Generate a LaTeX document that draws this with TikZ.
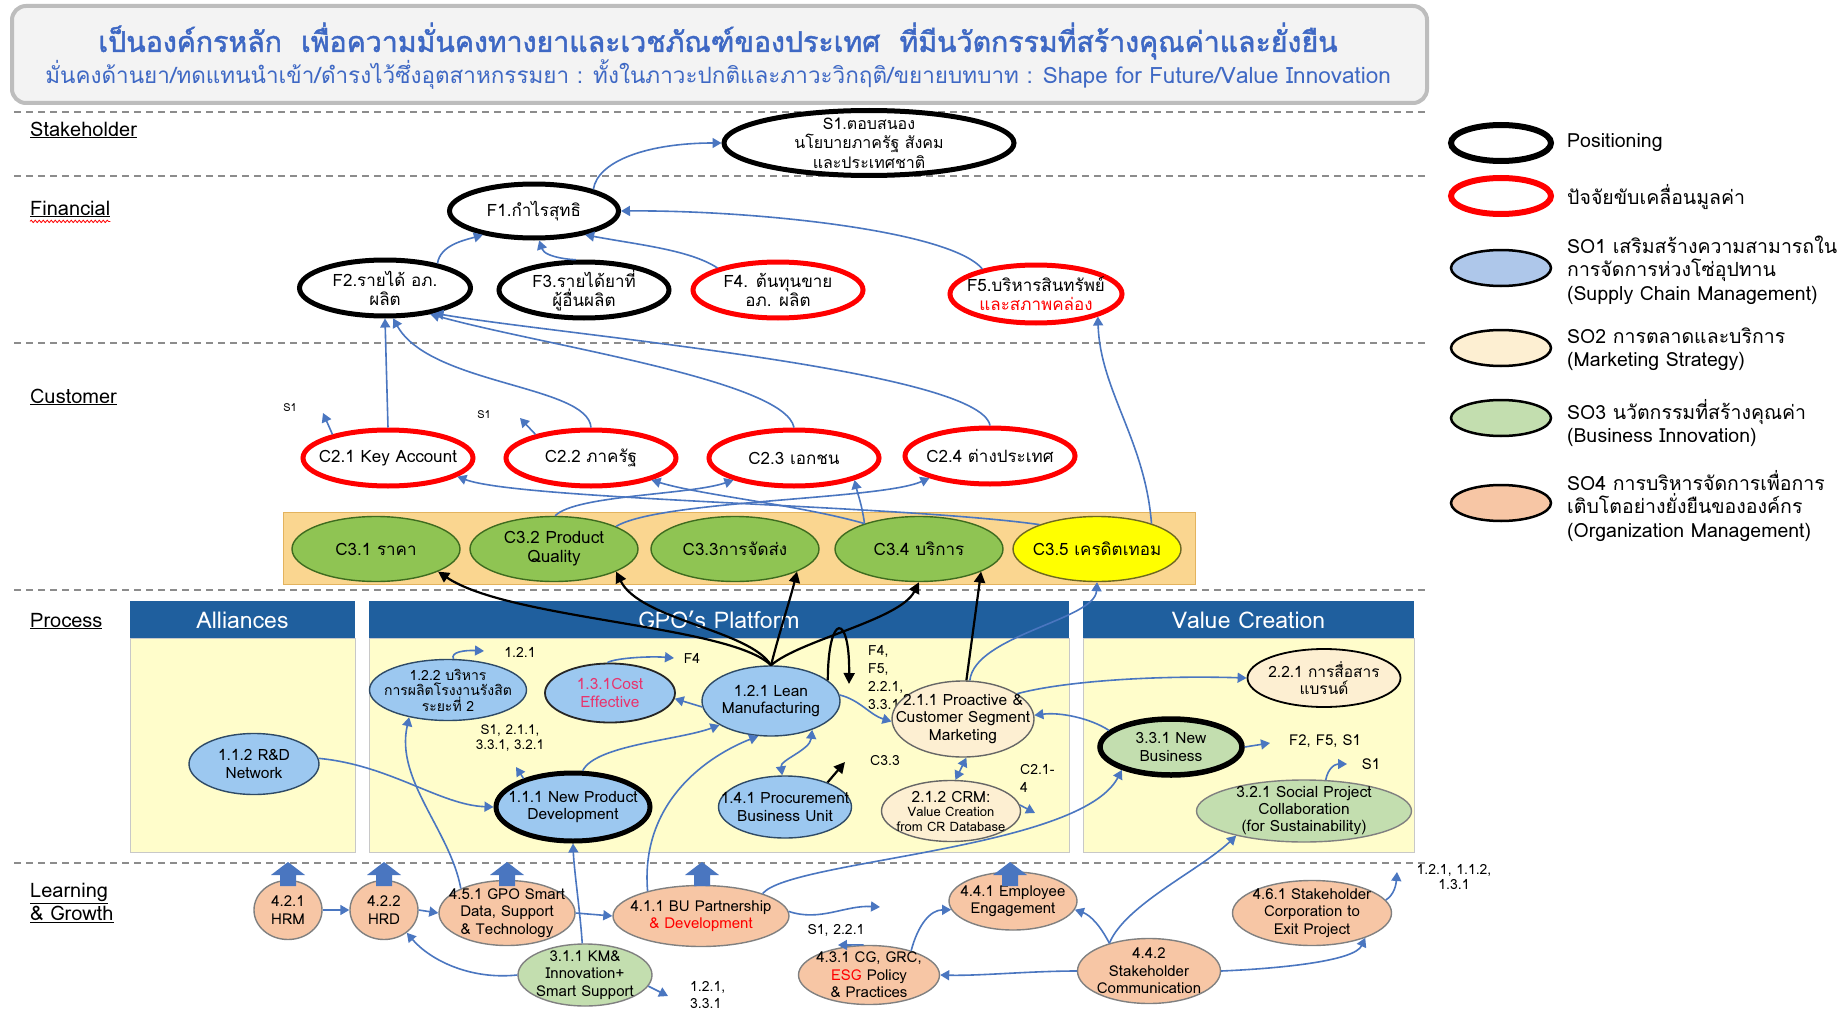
\documentclass[tikz,border=0pt]{standalone}
\usepackage{fontspec}
\setmainfont[Script=Thai]{Loma}
\newfontfamily\ttlfont[Script=Thai,FakeBold=1.6]{Loma}
\usetikzlibrary{shapes.geometric,arrows.meta,decorations.pathmorphing}
\definecolor{ttl}{HTML}{3E68C4}
\definecolor{hdrbg}{HTML}{F3F3F3}
\definecolor{hdrbd}{HTML}{BDBDBD}
\definecolor{dashc}{HTML}{8C8C8C}
\definecolor{band}{HTML}{FAD690}
\definecolor{bandbd}{HTML}{E3B35E}
\definecolor{barb}{HTML}{1F5F9E}
\definecolor{bodyc}{HTML}{FFFDCB}
\definecolor{bodybd}{HTML}{C8C8C8}
\definecolor{arr}{HTML}{4A76C0}
\definecolor{rd}{HTML}{FF0000}
\definecolor{bluef}{HTML}{9CC8F0}
\definecolor{bluel}{HTML}{AEC7EA}
\definecolor{beige}{HTML}{FDEFD2}
\definecolor{greenl}{HTML}{C3DEAF}
\definecolor{orng}{HTML}{F7C6A5}
\definecolor{cthree}{HTML}{8FC453}
\definecolor{cthreed}{HTML}{3E6B1F}
\definecolor{yel}{HTML}{FFFF00}
\definecolor{pinkred}{HTML}{E8336D}
\definecolor{ndb}{HTML}{2E4A66}
\newcommand\ellnode[8][]{%
  \node[#3,minimum width=#6pt,minimum height=#7pt] (#2) at (#4,#5) {};%
  \node[tx,#1] (#2t) at (#2.center) {#8};}
\tikzset{
  ebase/.style={ellipse,inner sep=0pt,draw},
  posn/.style={ebase,draw=black,line width=5pt,fill=white},
  drv/.style={ebase,draw=rd,line width=5pt,fill=white},
  sob/.style={ebase,fill=bluef,draw=ndb,line width=1.4pt},
  sobk/.style={sob,draw=black,line width=5pt},
  sobc/.style={sob,draw=black!85,line width=1.8pt},
  sbe/.style={ebase,fill=beige,draw=black!60,line width=1.4pt},
  sbek/.style={sbe,draw=black,line width=1.8pt},
  sgr/.style={ebase,fill=greenl,draw=black!50,line width=1.4pt},
  sgrk/.style={sgr,draw=black,line width=5.5pt},
  sor/.style={ebase,fill=orng,draw=black!50,line width=1.4pt},
  cthr/.style={ebase,fill=cthree,draw=cthreed,line width=1.4pt},
  cthy/.style={ebase,fill=yel,draw=olive!70!black,line width=1.4pt},
  tx/.style={align=center,inner sep=0pt,font=\fontsize{15.5}{17.5}\selectfont},
  ba/.style={draw=arr,line width=1.6pt,-{Triangle[width=10pt,length=9pt]}},
  bd/.style={draw=arr,line width=1.6pt,{Triangle[width=10pt,length=9pt]}-{Triangle[width=10pt,length=9pt]}},
  ka/.style={draw=black,line width=2.2pt,-{Triangle[width=11pt,length=11pt]}},
  lbl/.style={inner sep=0pt,align=center,font=\fontsize{14}{15.5}\selectfont},
  rowl/.style={anchor=west,inner sep=0pt,align=left,font=\fontsize{20}{23}\selectfont},
  leg/.style={anchor=west,inner sep=0pt,align=left,font=\fontsize{19.5}{23.5}\selectfont},
  hdr/.style={inner sep=0pt,text=white,font=\fontsize{23}{26}\selectfont},
  dline/.style={draw=dashc,line width=1.3pt,dash pattern=on 7pt off 5pt},
}
\begin{document}
\begin{tikzpicture}[x=1pt,y=1pt]
\useasboundingbox (0,0) rectangle (1842,-1014);
\fill[white] (0,0) rectangle (1842,-1014);
% title box
\draw[draw=hdrbd,fill=hdrbg,line width=4pt,rounded corners=14pt] (12,-6) rectangle (1427,-103);
\node[inner sep=0pt,text=ttl,font=\ttlfont\fontsize{28.5}{31}\selectfont] (title1) at (718,-41)
  {เป็นองค์กรหลัก\ \ เพื่อความมั่นคงทางยาและเวชภัณฑ์ของประเทศ\ \ ที่มีนวัตกรรมที่สร้างคุณค่าและยั่งยืน};
\node[inner sep=0pt,text=ttl,font=\fontsize{22.5}{25}\selectfont] (title2) at (718,-75)
  {มั่นคงด้านยา/ทดแทนนำเข้า/ดำรงไว้ซึ่งอุตสาหกรรมยา : ทั้งในภาวะปกติและภาวะวิกฤติ/ขยายบทบาท : Shape for Future/Value Innovation};
% dashed separators
\foreach \yy in {112,176,343,590,863} \draw[dline] (14,-\yy) -- (1427,-\yy);
% row labels
\node[rowl] (rS) at (30,-130) {\underline{Stakeholder}};
\node[rowl] (rF) at (30,-209) {\underline{Financial}};
\draw[rd,line width=0.8pt,decorate,decoration={snake,amplitude=1.2pt,segment length=4pt}] ([yshift=-4pt]rF.south west) -- ([yshift=-4pt]rF.south east);
\node[rowl] (rC) at (30,-397) {\underline{Customer}};
\node[rowl] (rP) at (30,-621) {\underline{Process}};
\node[rowl] (rL) at (30,-903) {\underline{Learning}\\\underline{\&\ Growth}};
% C3 band
\draw[fill=band,draw=bandbd,line width=1pt] (283,-512) rectangle (1195,-584);
% process boxes
\draw[fill=bodyc,draw=bodybd,line width=1pt] (130,-638) rectangle (355,-852);
\draw[fill=bodyc,draw=bodybd,line width=1pt] (369,-638) rectangle (1069,-852);
\draw[fill=bodyc,draw=bodybd,line width=1pt] (1083,-638) rectangle (1414,-852);
\fill[barb] (130,-601) rectangle (355,-638);
\fill[barb] (369,-601) rectangle (1069,-638);
\fill[barb] (1083,-601) rectangle (1414,-638);
\node[hdr] (hA) at (242.5,-620) {Alliances};
\node[hdr] (hG) at (719,-620) {GPO's Platform};
\node[hdr] (hV) at (1248.5,-620) {Value Creation};
% small labels (behind nodes)
\node[lbl,font=\fontsize{11}{12}\selectfont] (ls1a) at (290,-408) {S1};
\node[lbl,font=\fontsize{11}{12}\selectfont] (ls1b) at (484,-415) {S1};
\node[lbl] (lb121) at (520,-652) {1.2.1};
\node[lbl] (lbf4) at (692,-658) {F4};
\node[lbl,font=\fontsize{13.5}{15.5}\selectfont] (lbs1) at (510,-738) {S1, 2.1.1,\\3.3.1, 3.2.1};
\node[lbl,anchor=north west,align=left,font=\fontsize{14}{18}\selectfont] (lbf45) at (868,-645) {F4,\\F5,\\2.2.1,\\3.3.1};
\node[lbl] (lbc33) at (885,-761) {C3.3};
\node[lbl,anchor=north west,align=left,font=\fontsize{14}{18}\selectfont] (lbc21) at (1020,-764) {C2.1-\\4};
\node[lbl,anchor=west,font=\fontsize{15}{17}\selectfont] (lbf2) at (1289,-741) {F2, F5, S1};
\node[lbl,font=\fontsize{15}{17}\selectfont] (lbs1c) at (1371,-764) {S1};
\node[lbl] (lb461) at (1454,-877) {1.2.1, 1.1.2,\\1.3.1};
\node[lbl] (lb411) at (836,-930) {S1, 2.2.1};
\node[lbl,anchor=west,align=left,font=\fontsize{14}{17}\selectfont] (lb311) at (690,-995) {1.2.1,\\3.3.1};
% stakeholder / financial
\begin{scope}[tx/.style={align=center,inner sep=0pt,font=\fontsize{17}{19}\selectfont}]
\ellnode[font=\fontsize{16}{19.5}\selectfont]{S1}{posn}{869}{-143}{290}{65}{S1.ตอบสนอง\\นโยบายภาครัฐ สังคม\\และประเทศชาติ}
\ellnode{F1}{posn}{534}{-211}{169}{54}{F1.กำไรสุทธิ}
\ellnode{F2}{posn}{385}{-288}{171}{56}{F2.รายได้ อภ.\\ผลิต}
\ellnode{F3}{posn}{584}{-290}{170}{56}{F3.รายได้ยาที่\\ผู้อื่นผลิต}
\ellnode{F4}{drv}{778}{-290}{170}{56}{F4. ต้นทุนขาย\\อภ. ผลิต}
\ellnode{F5}{drv}{1036}{-294}{172}{58}{F5.บริหารสินทรัพย์\\\textcolor{rd}{และสภาพคล่อง}}
\ellnode{C21}{drv}{388}{-458}{170}{56}{C2.1 Key Account}
\ellnode{C22}{drv}{591}{-458}{170}{56}{C2.2 ภาครัฐ}
\ellnode{C23}{drv}{794}{-458}{170}{56}{C2.3 เอกชน}
\ellnode{C24}{drv}{990}{-456}{170}{56}{C2.4 ต่างประเทศ}
\ellnode{C31}{cthr}{376}{-549}{168}{65}{C3.1 ราคา}
\ellnode{C32}{cthr}{554}{-549}{168}{65}{C3.2 Product\\Quality}
\ellnode{C33}{cthr}{735}{-549}{168}{65}{C3.3การจัดส่ง}
\ellnode{C34}{cthr}{919}{-549}{168}{65}{C3.4 บริการ}
\ellnode{C35}{cthy}{1097}{-549}{168}{65}{C3.5 เครดิตเทอม}
\end{scope}
% process nodes
\ellnode[font=\fontsize{14}{15.5}\selectfont]{n122}{sob}{448}{-690}{157}{61}{1.2.2 บริหาร\\การผลิตโรงงานรังสิต\\ระยะที่ 2}
\ellnode{n131}{sobc}{610}{-693}{130}{59}{\textcolor{pinkred}{1.3.1Cost}\\\textcolor{pinkred}{Effective}}
\ellnode{n121}{sob}{771}{-701}{138}{70}{1.2.1 Lean\\Manufacturing}
\ellnode{n112}{sob}{254}{-764}{130}{61}{1.1.2 R\&D\\Network}
\ellnode{n111}{sobk}{573}{-807}{154}{68}{1.1.1 New Product\\Development}
\ellnode{n141}{sob}{785}{-807}{133}{62}{1.4.1 Procurement\\Business Unit}
\ellnode{n211}{sbe}{963}{-719}{142}{76}{2.1.1 Proactive \&\\Customer Segment\\Marketing}
\ellnode[font=\fontsize{13}{14.5}\selectfont]{n212}{sbe}{951}{-811}{139}{61}{{\fontsize{15.5}{17}\selectfont 2.1.2 CRM:}\\Value Creation\\from CR Database}
\ellnode{n221}{sbek}{1324}{-678}{153}{58}{2.2.1 การสื่อสาร\\แบรนด์}
\ellnode{n331}{sgrk}{1171}{-747}{142}{56}{3.3.1 New\\Business}
\ellnode[font=\fontsize{15.5}{17}\selectfont]{n321}{sgr}{1304}{-811}{215}{62}{3.2.1 Social Project\\Collaboration\\(for Sustainability)}
% learning & growth
\begin{scope}[tx/.style={align=center,inner sep=0pt,font=\fontsize{15}{17.5}\selectfont}]
\ellnode{n421}{sor}{288}{-910}{68}{59}{4.2.1\\HRM}
\ellnode{n422}{sor}{384}{-910}{68}{59}{4.2.2\\HRD}
\ellnode{n451}{sor}{507}{-913}{136}{65}{4.5.1 GPO Smart\\Data, Support\\\& Technology}
\ellnode{n411}{sor}{701}{-916}{176}{61}{4.1.1 BU Partnership\\\textcolor{rd}{\& Development}}
\ellnode{n311}{sgr}{585}{-975}{134}{62}{3.1.1 KM\&\\Innovation+\\Smart Support}
\ellnode{n441}{sor}{1013}{-901}{128}{58}{4.4.1 Employee\\Engagement}
\ellnode{n431}{sor}{869}{-975}{141}{59}{4.3.1 CG, GRC,\\\textcolor{rd}{ESG} Policy\\\& Practices}
\ellnode{n442}{sor}{1149}{-971}{143}{65}{4.4.2\\Stakeholder\\Communication}
\ellnode{n461}{sor}{1312}{-913}{159}{65}{4.6.1 Stakeholder\\Corporation to\\Exit Project}
\end{scope}
% block arrows
\foreach \bx in {288,384,507,702,1010}
  \fill[arr] (\bx-8,-886) -- (\bx-8,-875) -- (\bx-17,-875) -- (\bx,-862) -- (\bx+17,-875) -- (\bx+8,-875) -- (\bx+8,-886) -- cycle;
% legend
\ellnode{L1}{posn,line width=6pt}{1501}{-143}{100}{36}{}
\ellnode{L2}{drv,line width=6pt}{1501}{-196}{100}{36}{}
\ellnode{L3}{ebase,fill=bluel,draw=black,line width=2.5pt}{1501}{-268}{100}{36}{}
\ellnode{L4}{ebase,fill=beige,draw=black,line width=2.5pt}{1501}{-348}{100}{36}{}
\ellnode{L5}{ebase,fill=greenl,draw=black,line width=2.5pt}{1501}{-418}{100}{36}{}
\ellnode{L6}{ebase,fill=orng,draw=black,line width=2.5pt}{1501}{-503}{100}{36}{}
\node[leg] (T1) at (1567,-143) {Positioning};
\node[leg] (T2) at (1567,-197) {ปัจจัยขับเคลื่อนมูลค่า};
\node[leg] (T3) at (1567,-270) {SO1 เสริมสร้างความสามารถใน\\การจัดการห่วงโซ่อุปทาน\\(Supply Chain Management)};
\node[leg] (T4) at (1567,-349) {SO2 การตลาดและบริการ\\(Marketing Strategy)};
\node[leg] (T5) at (1567,-423) {SO3 นวัตกรรมที่สร้างคุณค่า\\(Business Innovation)};
\node[leg] (T6) at (1567,-506) {SO4 การบริหารจัดการเพื่อการ\\เติบโตอย่างยั่งยืนขององค์กร\\(Organization Management)};
% free ends
\coordinate (s1a) at (323,-413);
\coordinate (s1b) at (520,-418);
\coordinate (l121) at (484,-651);
\coordinate (lf4) at (674,-658);
\coordinate (lS1) at (516,-767);
\coordinate (loopend) at (849,-684);
\coordinate (lc33) at (845,-762);
\coordinate (lc21) at (1035,-813);
\coordinate (lf2) at (1270,-743);
\coordinate (ls1c) at (1347,-764);
\coordinate (l311) at (668,-996);
\coordinate (l411) at (880,-907);
\coordinate (l431) at (838,-945);
\coordinate (l461) at (1397,-872);
% financial arrows
\draw[ba] (F1.20) .. controls (598,-160) and (650,-143) .. (S1.west);
\draw[ba] (F2.25) .. controls (440,-245) and (465,-240) .. (F1.205);
\draw[ba] (F3.105) .. controls (575,-260) and (545,-258) .. (F1.-80);
\draw[ba] (F4.160) .. controls (690,-250) and (640,-245) .. (F1.-25);
\draw[ba] (F5.155) .. controls (950,-230) and (750,-210) .. (F1.east);
% customer -> financial
\draw[ba] (C21.north) -- (F2.south);
\draw[ba] (C22.north) .. controls (588,-385) and (430,-385) .. (F2.-75);
\draw[ba] (C23.north) .. controls (785,-380) and (540,-345) .. (F2.-30);
\draw[ba] (C24.north) .. controls (980,-370) and (560,-335) .. (F2.-27);
\draw[ba] (C35.25) .. controls (1145,-440) and (1100,-390) .. (F5.-20);
\draw[ba] (C21.157) -- (s1a);
\draw[ba] (C22.157) -- (s1b);
% C3 -> C2
\draw[ba] (C32.88) .. controls (575,-495) and (690,-495) .. (C23.200);
\draw[ba] (C32.20) .. controls (660,-500) and (880,-500) .. (C24.200);
\draw[ba] (C34.155) .. controls (862,-505) and (858,-495) .. (C23.-20);
\draw[ba] (C34.155) .. controls (800,-505) and (700,-495) .. (C22.-20);
\draw[ba] (C35.157) .. controls (900,-505) and (520,-500) .. (C21.-15);
% black arrows
\draw[ka] (n121.north) .. controls (730,-625) and (510,-620) .. (C31.-20);
\draw[ka] (n121.north) .. controls (750,-630) and (640,-620) .. (C32.-20);
\draw[ka] (n121.north) .. controls (780,-630) and (790,-600) .. (C33.-20);
\draw[ka] (n121.north) .. controls (800,-640) and (900,-620) .. (C34.-90);
\draw[ka] (n211.85) -- (C34.-20);
\draw[ka] (n121.20) .. controls (828,-612) and (850,-612) .. (loopend);
\draw[ka] (n141.30) -- (lc33);
% process blue arrows
\draw[ba] (n122.80) .. controls (450,-652) and (465,-650) .. (l121);
\draw[ba] (n131.95) .. controls (615,-658) and (650,-656) .. (lf4);
\draw[ba] (n111.150) -- (lS1);
\draw[ba] (n121.185) -- (n131.-5);
\draw[ba] (n112.5) .. controls (390,-765) and (440,-805) .. (n111.180);
\draw[ba] (n111.75) .. controls (595,-745) and (680,-740) .. (n121.205);
\draw[ba] (n411.155) .. controls (640,-800) and (710,-755) .. (n121.250);
\draw[bd] (n141.95) .. controls (780,-760) and (810,-750) .. (n121.-35);
\draw[ba] (n121.5) .. controls (860,-700) and (870,-715) .. (n211.182);
\draw[bd] (n212.82) -- (n211.-85);
\draw[ba] (n212.5) -- (lc21);
\draw[ba] (n331.165) .. controls (1090,-718) and (1060,-712) .. (n211.3);
\draw[ba] (n211.25) .. controls (1060,-682) and (1150,-675) .. (n221.180);
\draw[ba] (n211.80) .. controls (975,-635) and (1095,-620) .. (C35.-90);
\draw[ba] (n331.0) -- (lf2);
\draw[ba] (n321.55) .. controls (1328,-768) and (1335,-764) .. (ls1c);
\draw[ba] (n411.20) .. controls (790,-860) and (1080,-850) .. (n331.205);
\draw[ba] (n442.145) .. controls (1125,-905) and (1200,-870) .. (n321.200);
\draw[ba] (n451.152) .. controls (450,-830) and (395,-780) .. (n122.215);
\draw[ba] (n311.95) .. controls (580,-910) and (574,-870) .. (n111.-90);
% learning & growth arrows
\draw[ba] (n421.east) -- (n422.west);
\draw[ba] (n422.east) -- (n451.west);
\draw[ba] (n451.east) -- (n411.west);
\draw[ba] (n311.180) .. controls (470,-980) and (430,-960) .. (n422.-45);
\draw[ba] (n311.-10) -- (l311);
\draw[ba] (n411.3) .. controls (820,-922) and (845,-905) .. (l411);
\draw[ba] (n431.100) -- (l431);
\draw[ba] (n431.30) .. controls (918,-925) and (930,-910) .. (n441.188);
\draw[ba] (n442.145) .. controls (1100,-925) and (1090,-915) .. (n441.-8);
\draw[ba] (n442.180) .. controls (1030,-971) and (980,-976) .. (n431.0);
\draw[ba] (n442.0) .. controls (1290,-968) and (1355,-960) .. (n461.-25);
\draw[ba] (n461.10) .. controls (1394,-895) and (1396,-885) .. (l461);
\end{tikzpicture}
\end{document}
